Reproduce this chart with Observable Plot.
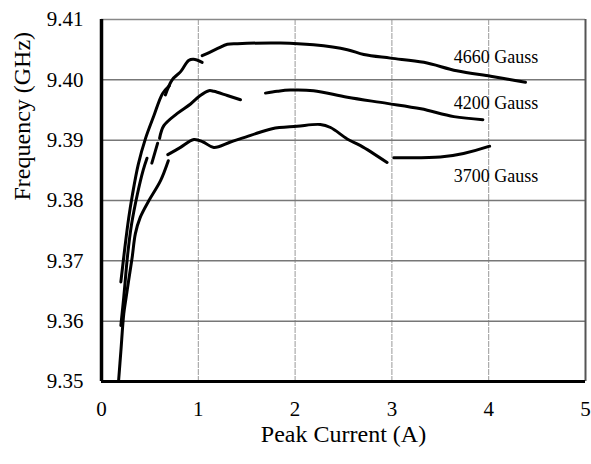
<!DOCTYPE html>
<html>
<head>
<meta charset="utf-8">
<script src="https://cdn.jsdelivr.net/npm/d3@7"></script>
<script src="https://cdn.jsdelivr.net/npm/@observablehq/plot@0.6"></script>
<style>
  html, body { margin: 0; padding: 0; background: #fff; }
  svg, svg text { font-family: "Liberation Serif", "Times New Roman", serif !important; }
</style>
</head>
<body>
<div id="chart"></div>
<script>
// ---- Data ----
const xTicks = [0, 1, 2, 3, 4, 5];
const yTicks = [9.35, 9.36, 9.37, 9.38, 9.39, 9.40, 9.41];
const xTitle = "Peak Current (A)";
const yTitle = "Frequency (GHz)";
const serif = "'Liberation Serif', 'Times New Roman', serif";

// 4660 Gauss, broken into measured pieces
const g4660_seg = [0,0,0,0,0,0,0,0,0, 1,1,1,1,1,1, 2,2,2,2,2,2,2,2,2,2,2,2,2,2,2];
const g4660_x = [0.20,0.24,0.28,0.32,0.38,0.455,0.54,0.63,0.70,
                 0.66,0.73,0.82,0.90,0.95,1.04,
                 1.04,1.095,1.20,1.30,1.405,1.85,2.19,2.54,2.71,2.985,3.33,3.67,4.02,4.20,4.38];
const g4660_y = [9.3665,9.3720,9.3770,9.3810,9.3860,9.3903,9.3940,9.3977,9.3990,
                 9.3975,9.4000,9.4014,9.4032,9.4034,9.4029,
                 9.4040,9.4044,9.4052,9.4059,9.4060,9.4061,9.4058,9.4050,9.4042,9.4036,9.4029,9.4015,9.4006,9.4001,9.3996];

// 4200 Gauss
const g4200_seg = [0,0,0,0,0,0,0, 1,1, 2,2,2,2,2,2,2,2,2, 3,3,3,3,3,3,3,3,3];
const g4200_x = [0.20,0.23,0.27,0.31,0.37,0.43,0.47,
                 0.52,0.58,
                 0.60,0.644,0.78,0.92,1.02,1.11,1.16,1.30,1.436,
                 1.694,1.815,1.95,2.19,2.54,2.95,3.30,3.64,3.94];
const g4200_y = [9.3593,9.3640,9.3710,9.3760,9.3810,9.3850,9.3870,
                 9.3862,9.3895,
                 9.3903,9.3924,9.3944,9.3960,9.3974,9.3982,9.3981,9.3974,9.3967,
                 9.3978,9.3981,9.3983,9.3982,9.3971,9.3961,9.3952,9.3939,9.3934];

// 3700 Gauss
const g3700_seg = [0,0,0,0,0,0,0,0,0,0,0, 1,1,1,1,1,1,1,1,1,1,1,1,1,1, 2,2,2,2];
const g3700_x = [0.176,0.20,0.23,0.255,0.28,0.317,0.35,0.40,0.49,0.61,0.69,
                 0.685,0.816,0.954,1.05,1.16,1.333,1.54,1.763,2.02,2.26,2.366,2.538,2.676,2.95,
                 3.02,3.50,3.74,4.01];
const g3700_y = [9.3500,9.3550,9.3612,9.3640,9.3667,9.3706,9.3745,9.3772,9.3800,9.3833,9.3866,
                 9.3876,9.3888,9.3901,9.3897,9.3888,9.3897,9.3908,9.3919,9.3923,9.3926,9.3921,9.3902,9.3891,9.3863,
                 9.3871,9.3872,9.3878,9.3890];

const seriesNames = ["4660 Gauss", "4200 Gauss", "3700 Gauss"];
const labelX = [3.64, 3.64, 3.64];
const labelY = [9.4037, 9.3961, 9.3841];

// ---- Build table ----
function rows(name, xs, ys, seg) {
  return xs.map((x, i) => ({series: name, piece: name + "-" + seg[i], x, y: ys[i]}));
}
const data = [
  ...rows(seriesNames[0], g4660_x, g4660_y, g4660_seg),
  ...rows(seriesNames[1], g4200_x, g4200_y, g4200_seg),
  ...rows(seriesNames[2], g3700_x, g3700_y, g3700_seg)
];
const labels = seriesNames.map((s, i) => ({text: s, x: labelX[i], y: labelY[i]}));

const chart = Plot.plot({
  width: 591,
  height: 464,
  marginLeft: 101,
  marginRight: 6,
  marginTop: 19,
  marginBottom: 83,
  style: {fontFamily: serif, background: "#fff", color: "#000"},
  x: {domain: [0, 5], ticks: xTicks, tickFormat: d3.format("d")},
  y: {domain: [9.35, 9.41], ticks: yTicks, tickFormat: d3.format(".2f")},
  marks: [
    Plot.ruleX([1, 2, 3, 4], {stroke: "#999", strokeWidth: 1, strokeDasharray: "6,1"}),
    Plot.ruleY([9.36, 9.37, 9.38, 9.39, 9.40], {stroke: "#777", strokeWidth: 1.5}),
    Plot.ruleY([9.41], {stroke: "#888", strokeWidth: 1.5}),
    Plot.ruleX([5], {stroke: "#555", strokeWidth: 2}),
    Plot.ruleY([9.35], {stroke: "#000", strokeWidth: 3}),
    Plot.ruleX([0], {stroke: "#000", strokeWidth: 3.5}),
    Plot.line(data, {x: "x", y: "y", z: "piece", stroke: "#000", strokeWidth: 3, curve: "catmull-rom"}),
    Plot.text(labels, {x: "x", y: "y", text: "text", textAnchor: "start", fontSize: 18, fontFamily: serif, fill: "#000"}),
    Plot.axisX({ticks: xTicks, tickFormat: d3.format("d"), tickSize: 0, tickPadding: 20, fontSize: 21, fontFamily: serif, label: null, color: "#000"}),
    Plot.axisY({ticks: yTicks, tickFormat: d3.format(".2f"), tickSize: 0, tickPadding: 18, fontSize: 21, fontFamily: serif, label: null, color: "#000"}),
    Plot.text([xTitle], {frameAnchor: "bottom", dy: 60, fontSize: 24, fontFamily: serif, fill: "#000"}),
    Plot.text([yTitle], {frameAnchor: "left", dx: -79, rotate: -90, fontSize: 24, fontFamily: serif, fill: "#000"})
  ]
});
document.getElementById("chart").appendChild(chart);
</script>
</body>
</html>
